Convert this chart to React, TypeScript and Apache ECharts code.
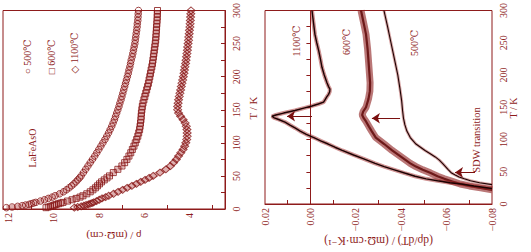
import React, { useEffect, useRef } from 'react';
import * as echarts from 'echarts';

// ---------- data ----------
// temperature grid (K) for the resistivity curves
const tRho = [2, 3, 4, 5, 6, 7, 8, 9, 10, 12, 14, 16, 18, 20, 23, 26, 29, 32, 35, 38, 41, 44, 47, 50,
  55, 60, 65, 70, 75, 80, 85, 90, 95, 100, 105, 110, 115, 120, 125, 130, 135, 140, 145, 150,
  155, 160, 165, 170, 175, 180, 185, 190, 195, 200, 205, 210, 215, 220, 225, 230, 235, 240, 245, 250,
  255, 260, 265, 270, 275, 280, 285, 290, 295, 300];

// resistivity (mΩ·cm)
const rho500 = [12.1, 11.85, 11.6, 11.4, 11.25, 11.1, 11.0, 10.9, 10.8, 10.6, 10.42, 10.25, 10.08, 9.95, 9.75, 9.58, 9.45, 9.33, 9.22, 9.12, 9.03, 8.95, 8.87, 8.8,
  8.7, 8.6, 8.5, 8.4, 8.3, 8.2, 8.11, 8.02, 7.93, 7.84, 7.75, 7.67, 7.59, 7.52, 7.45, 7.39, 7.33, 7.28, 7.23, 7.18,
  7.13, 7.09, 7.04, 7.0, 6.96, 6.92, 6.88, 6.84, 6.8, 6.76, 6.72, 6.69, 6.65, 6.62, 6.59, 6.55, 6.52, 6.49, 6.46, 6.43,
  6.41, 6.39, 6.37, 6.35, 6.33, 6.32, 6.3, 6.29, 6.28, 6.27];
const rho600 = [10.35, 10.25, 10.15, 10.05, 9.98, 9.9, 9.8, 9.7, 9.6, 9.4, 9.2, 9.02, 8.85, 8.72, 8.55, 8.4, 8.28, 8.17, 8.08, 7.99, 7.9, 7.78, 7.66, 7.55,
  7.38, 7.18, 7.0, 6.88, 6.78, 6.69, 6.61, 6.54, 6.47, 6.41, 6.35, 6.3, 6.26, 6.22, 6.2, 6.18, 6.16, 6.15, 6.14, 6.12,
  6.1, 6.07, 6.03, 5.99, 5.95, 5.91, 5.87, 5.83, 5.8, 5.77, 5.74, 5.71, 5.68, 5.65, 5.63, 5.61, 5.59, 5.57, 5.55, 5.53,
  5.51, 5.5, 5.49, 5.48, 5.47, 5.46, 5.45, 5.44, 5.44, 5.43];
const rho1100 = [9.1, 8.95, 8.8, 8.68, 8.58, 8.48, 8.4, 8.32, 8.25, 8.12, 8.0, 7.88, 7.72, 7.58, 7.37, 7.17, 6.97, 6.77, 6.56, 6.36, 6.17, 5.98, 5.8, 5.62,
  5.32, 5.06, 4.86, 4.72, 4.6, 4.5, 4.4, 4.3, 4.23, 4.18, 4.14, 4.12, 4.12, 4.13, 4.16, 4.21, 4.3, 4.41, 4.5, 4.54,
  4.54, 4.52, 4.5, 4.47, 4.44, 4.41, 4.38, 4.35, 4.32, 4.29, 4.26, 4.24, 4.22, 4.19, 4.17, 4.15, 4.13, 4.11, 4.1, 4.08,
  4.06, 4.05, 4.03, 4.02, 4.0, 3.99, 3.98, 3.97, 3.96, 3.95];

// derivative dρ/dT (mΩ·cm·K⁻¹)
const tD1100 = [300, 280, 263, 250, 237, 225, 212, 200, 188, 182, 178, 174, 170, 166, 162, 158, 155, 152, 149, 145, 141, 138, 136, 134, 131, 127, 122, 118, 113, 108, 103, 98, 93, 88, 83, 76, 70, 63, 58, 53, 48, 43, 39, 36, 33, 31, 28, 26, 24];
const d1100 = [-0.0007, -0.0014, -0.002, -0.0028, -0.0037, -0.0044, -0.0051, -0.0061, -0.0073, -0.008, -0.0086, -0.0085, -0.008, -0.0072, -0.0065, -0.0058, -0.0035, -0.0007, 0.0025, 0.0068, 0.0118, 0.0152, 0.0169, 0.0162, 0.014, 0.0112, 0.0088, 0.0068, 0.0045, 0.0018, -0.0015, -0.0045, -0.0078, -0.0108, -0.014, -0.019, -0.0235, -0.0285, -0.0325, -0.037, -0.0415, -0.0461, -0.051, -0.056, -0.0615, -0.0665, -0.072, -0.076, -0.08];
const tD600 = [300, 280, 263, 240, 212, 188, 175, 163, 150, 143, 138, 133, 128, 120, 113, 103, 93, 83, 73, 63, 58, 53, 48, 43, 39, 35, 31, 28, 25, 22];
const d600 = [-0.0223, -0.0235, -0.0245, -0.0252, -0.0258, -0.0263, -0.0262, -0.0256, -0.0245, -0.0232, -0.0228, -0.0235, -0.0245, -0.0258, -0.027, -0.0288, -0.0325, -0.036, -0.04, -0.044, -0.0465, -0.0495, -0.053, -0.056, -0.059, -0.0625, -0.066, -0.07, -0.075, -0.08];
const tD500 = [300, 275, 250, 225, 200, 180, 160, 145, 133, 123, 113, 103, 93, 88, 83, 78, 73, 68, 63, 58, 53, 48, 45, 42, 39, 36, 33, 30];
const d500 = [-0.0324, -0.034, -0.0355, -0.037, -0.0385, -0.0394, -0.0402, -0.0406, -0.041, -0.0416, -0.0425, -0.044, -0.0465, -0.0485, -0.0505, -0.0528, -0.055, -0.0568, -0.0582, -0.0595, -0.0608, -0.0622, -0.0638, -0.0655, -0.0678, -0.0705, -0.0745, -0.08];

// axis ticks & labels
const rhoLabels = [4, 6, 8, 10, 12];
const rhoTicks = [3, 5, 7, 9, 11];
const dLabels = [0.02, 0, -0.02, -0.04, -0.06, -0.08];
const dTicks = [0.01, -0.01, -0.03, -0.05, -0.07];
const tLabels = [0, 50, 100, 150, 200, 250, 300];
const tTicks = [0, 25, 50, 75, 100, 125, 150, 175, 200, 225, 250, 275, 300];

// annotation arrows: [T, from, to]
const arrow1100 = [136, -0.0007, 0.0103];
const arrow600 = [133, -0.0395, -0.0271];
const arrowSDW = [49, -0.0725, -0.0637];

const COLOR = '#8e1b1b';
const FONT = '"Liberation Serif", "DejaVu Serif", serif';

const zip = (ts: number[], vs: number[]) => ts.map((t, i) => [vs[i], t]);

const tAxis = (gridIndex: number) => ({
  gridIndex,
  type: 'value',
  min: 0,
  max: 300,
  position: 'right',
  axisLine: { show: true, lineStyle: { color: COLOR, width: 1 } },
  axisTick: { show: true, inside: true, length: 4, customValues: tTicks, lineStyle: { color: COLOR } },
  axisLabel: { customValues: tLabels, rotate: 90, margin: 6, color: COLOR, fontFamily: FONT, fontSize: 10 },
  splitLine: { show: false },
});

const arrowLine = (a: number[]) => ({
  silent: true,
  symbol: ['none', 'arrow'],
  symbolSize: 8,
  label: { show: false },
  lineStyle: { color: '#7a1010', width: 1, type: 'solid' },
  data: [[{ coord: [a[1], a[0]] }, { coord: [a[2], a[0]] }]],
});

const rotText = (id: string, text: string, x: number, y: number, size = 10) => ({
  id,
  type: 'text',
  x,
  y,
  rotation: Math.PI / 2,
  silent: true,
  z: 100,
  style: {
    text,
    fill: COLOR,
    font: `${size}px ${FONT}`,
    align: 'center',
    verticalAlign: 'middle',
    textAlign: 'center',
    textVerticalAlign: 'middle',
  },
});

const band = (data: number[]) => ({
  type: 'line',
  xAxisIndex: 0,
  yAxisIndex: 0,
  showSymbol: false,
  silent: true,
  data: zip(tRho, data),
  lineStyle: { color: 'rgba(185,80,80,0.45)', width: 5 },
  z: 1,
});

const marker = (name: string, symbol: string, size: any, data: number[]) => ({
  name,
  type: 'scatter',
  xAxisIndex: 0,
  yAxisIndex: 0,
  symbol,
  symbolSize: size,
  data: zip(tRho, data),
  itemStyle: { color: 'rgba(255,255,255,0)', borderColor: '#861414', borderWidth: 1 },
  silent: true,
  z: 2,
});

export default function App() {
  const ref = useRef<HTMLDivElement>(null);
  useEffect(() => {
    if (!ref.current) return;
    document.documentElement.style.overflow = 'hidden';
    document.body.style.overflow = 'hidden';
    document.body.style.margin = '0';
    const chart = echarts.init(ref.current, undefined, { renderer: 'svg' });
    chart.setOption({
      animation: false,
      backgroundColor: '#ffffff',
      grid: [
        { left: 3, top: 7, width: 222, height: 202, show: true, borderColor: COLOR, borderWidth: 1 },
        { left: 265, top: 7, width: 227, height: 202, show: true, borderColor: COLOR, borderWidth: 1 },
      ],
      xAxis: [
        {
          gridIndex: 0, type: 'value', min: 2.45, max: 12.25, inverse: true, position: 'bottom',
          axisLine: { show: true, lineStyle: { color: COLOR, width: 1 } },
          axisTick: { show: true, inside: true, length: 4, customValues: rhoTicks, lineStyle: { color: COLOR } },
          axisLabel: { customValues: rhoLabels, rotate: 90, margin: 4, color: COLOR, fontFamily: FONT, fontSize: 10 },
          splitLine: { show: false },
          name: 'ρ / (mΩ·cm)', nameLocation: 'middle', nameGap: 21, nameRotate: 180, nameMoveOverlap: false,
          nameTextStyle: { color: COLOR, fontFamily: FONT, fontSize: 11 },
        },
        {
          gridIndex: 1, type: 'value', min: -0.08, max: 0.02, inverse: true, position: 'bottom',
          axisLine: { show: true, lineStyle: { color: COLOR, width: 1 } },
          axisTick: { show: true, inside: true, length: 4, customValues: dTicks, lineStyle: { color: COLOR } },
          axisLabel: {
            customValues: dLabels, rotate: 90, margin: 4, color: COLOR, fontFamily: FONT, fontSize: 10,
            formatter: (v: number) => v.toFixed(2).replace('-', '\u2212'),
          },
          splitLine: { show: false },
          name: '(dρ/dT) / (mΩ·cm·K\u207B\u00B9)', nameLocation: 'middle', nameGap: 31, nameRotate: 180, nameMoveOverlap: false,
          nameTextStyle: { color: COLOR, fontFamily: FONT, fontSize: 11.5 },
        },
      ],
      yAxis: [tAxis(0), tAxis(1)],
      series: [
        band(rho500),
        band(rho600),
        band(rho1100),
        marker('500℃', 'circle', 6.5, rho500),
        marker('600℃', 'rect', 6, rho600),
        marker('1100℃', 'diamond', [8, 7], rho1100),
        // dρ/dT, 600 ℃ (noisy band)
        {
          type: 'line', xAxisIndex: 1, yAxisIndex: 1, showSymbol: false, silent: true,
          data: zip(tD600, d600),
          lineStyle: { color: 'rgba(140,28,28,0.6)', width: 7 },
        },
        {
          type: 'line', xAxisIndex: 1, yAxisIndex: 1, showSymbol: false, silent: true,
          data: zip(tD600, d600),
          lineStyle: { color: 'rgba(95,8,8,0.85)', width: 2.2 },
          markLine: arrowLine(arrow600),
        },
        // dρ/dT, 1100 ℃
        {
          type: 'line', xAxisIndex: 1, yAxisIndex: 1, showSymbol: false, silent: true,
          data: zip(tD1100, d1100),
          lineStyle: { color: 'rgba(160,40,40,0.5)', width: 4 },
        },
        {
          type: 'line', xAxisIndex: 1, yAxisIndex: 1, showSymbol: false, silent: true,
          data: zip(tD1100, d1100),
          lineStyle: { color: '#1c0202', width: 1.4 },
          markLine: arrowLine(arrow1100),
        },
        // dρ/dT, 500 ℃
        {
          type: 'line', xAxisIndex: 1, yAxisIndex: 1, showSymbol: false, silent: true,
          data: zip(tD500, d500),
          lineStyle: { color: 'rgba(160,40,40,0.4)', width: 3 },
        },
        {
          type: 'line', xAxisIndex: 1, yAxisIndex: 1, showSymbol: false, silent: true,
          data: zip(tD500, d500),
          lineStyle: { color: '#1c0202', width: 1.1 },
          markLine: arrowLine(arrowSDW),
        },
      ],
      graphic: [
        rotText('tk1', 'T / K', 253, 108, 11),
        rotText('tk2', 'T / K', 513, 108, 10),
        rotText('lg1', '\u25CB 500℃', 27, 57),
        rotText('lg2', '\u25A1 600℃', 51, 57),
        rotText('lg3', '\u25C7 1100℃', 74, 53),
        rotText('lbl0', 'LaFeAsO', 32, 148),
        rotText('lbl1', '1100℃', 296, 41),
        rotText('lbl2', '600℃', 346, 42),
        rotText('lbl3', '500℃', 414, 43),
        rotText('lbl4', 'SDW transition', 476, 140, 10.5),
      ],
    });
    return () => chart.dispose();
  }, []);
  return (
    <div
      ref={ref}
      style={{ position: 'fixed', left: 0, top: 0, width: 531, height: 252, background: '#fff' }}
    />
  );
}
